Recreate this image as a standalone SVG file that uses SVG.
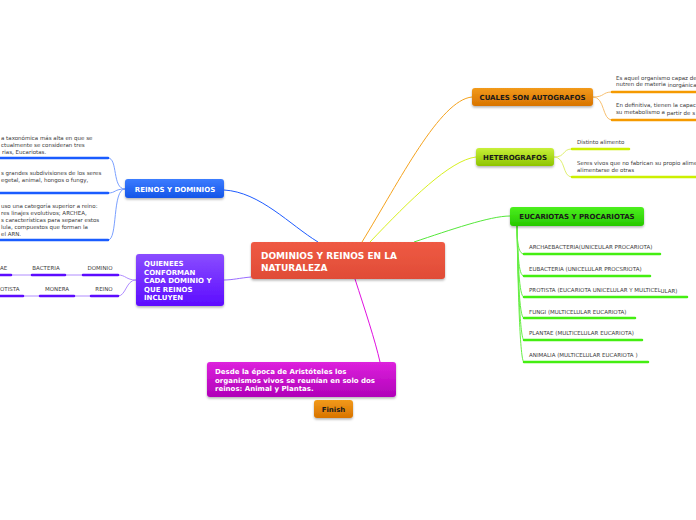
<svg xmlns="http://www.w3.org/2000/svg" width="696" height="520" viewBox="0 0 696 520">
<defs>
<linearGradient id="gRed" x1="0" y1="0" x2="0" y2="1"><stop offset="0" stop-color="#ef5a44"/><stop offset="1" stop-color="#e04c36"/></linearGradient>
<linearGradient id="gBlue" x1="0" y1="0" x2="0" y2="1"><stop offset="0" stop-color="#3b7cff"/><stop offset="1" stop-color="#1455e8"/></linearGradient>
<linearGradient id="gPurple" x1="0" y1="0" x2="0" y2="1"><stop offset="0" stop-color="#8a4dff"/><stop offset="1" stop-color="#5c0cff"/></linearGradient>
<linearGradient id="gOrange" x1="0" y1="0" x2="0" y2="1"><stop offset="0" stop-color="#f29a1a"/><stop offset="1" stop-color="#d87300"/></linearGradient>
<linearGradient id="gYellow" x1="0" y1="0" x2="0" y2="1"><stop offset="0" stop-color="#c8f03a"/><stop offset="1" stop-color="#8ec400"/></linearGradient>
<linearGradient id="gGreen" x1="0" y1="0" x2="0" y2="1"><stop offset="0" stop-color="#4cf01e"/><stop offset="1" stop-color="#27c800"/></linearGradient>
<linearGradient id="gMagenta" x1="0" y1="0" x2="0" y2="1"><stop offset="0" stop-color="#dd22dd"/><stop offset="1" stop-color="#b000b8"/></linearGradient>
<filter id="sh" x="-10%" y="-20%" width="120%" height="150%"><feDropShadow dx="0" dy="1.5" stdDeviation="1.2" flood-color="#000" flood-opacity="0.3"/></filter>
</defs>
<style>
.nt{font-family:"DejaVu Sans",Verdana,sans-serif;font-weight:bold;}
.w{fill:#ffffff;}
.d{fill:#1a1a1a;}
.s{font-family:"DejaVu Sans",Verdana,sans-serif;font-size:5.5px;fill:#3a3a3a;}
.c{fill:none;stroke-width:1;}
.u{fill:none;stroke-width:2.5;stroke-linecap:round;}
</style>
<rect width="696" height="520" fill="#ffffff"/>

<g id="connectors">
  <path class="c" stroke="#1e5cff" d="M224,190 C260,192 290,225 318,242"/>
  <path class="c" stroke="#f5a31e" d="M362,242 C400,180 440,100 472,97"/>
  <path class="c" stroke="#d8f020" d="M370,242 C410,200 450,160 476,157"/>
  <path class="c" stroke="#55e83a" d="M414,242 C450,230 490,216 510,216"/>
  <path class="c" stroke="#e010e0" d="M355,279 C365,310 375,340 380,362"/>
  <path class="c" stroke="#9a6cff" d="M251,277 C240,278 232,280 224,280"/>
  <path class="c" stroke="#7aa0ff" d="M125,189 C112,189 118,158 108,158"/>
  <path class="c" stroke="#7aa0ff" d="M125,189 C114,189 116,193 108,193"/>
  <path class="c" stroke="#7aa0ff" d="M125,189 C112,189 118,240 108,240"/>
  <path class="c" stroke="#b08cff" d="M136,280 C126,280 126,275 118,275"/>
  <path class="c" stroke="#b08cff" d="M136,280 C126,280 126,296 118,296"/>
  <path class="c" stroke="#b08cff" d="M83,275 L65,275 M32,275 L11,275 M90,296 L74,296 M40,296 L23,296"/>
  <path class="c" stroke="#f8c070" d="M593,97 C605,97 602,92 612,92"/>
  <path class="c" stroke="#f8c070" d="M593,97 C605,97 602,120 612,120"/>
  <path class="c" stroke="#e0f070" d="M554,157 C566,157 562,149 572,149"/>
  <path class="c" stroke="#e0f070" d="M554,157 C566,157 562,177 572,177"/>
  <path class="c" stroke="#66ee44" d="M517,226 C517,240 518,254 524,254"/>
  <path class="c" stroke="#66ee44" d="M517,226 C518,250 518,276 524,276"/>
  <path class="c" stroke="#66ee44" d="M517,226 C518,260 519,297 524,297"/>
  <path class="c" stroke="#66ee44" d="M517,226 C518,270 519,318 524,318"/>
  <path class="c" stroke="#66ee44" d="M517,226 C518,280 520,340 524,340"/>
  <path class="c" stroke="#66ee44" d="M517,226 C518,290 520,362 524,362"/>
</g>

<g id="central">
  <rect x="251" y="242" width="194" height="37" rx="3" fill="url(#gRed)" filter="url(#sh)"/>
  <text class="nt w" font-size="9" x="261" y="259">DOMINIOS Y REINOS EN LA</text>
  <text class="nt w" font-size="9" x="261" y="271">NATURALEZA</text>
</g>

<g id="reinos">
  <rect x="125" y="179" width="99" height="19" rx="3" fill="url(#gBlue)" filter="url(#sh)"/>
  <text class="nt w" font-size="7" x="175" y="191.5" text-anchor="middle">REINOS Y DOMINIOS</text>
</g>
<g id="reinos-1">
  <text class="s" x="1" y="140">a taxonómica más alta en que se</text>
  <text class="s" x="1" y="147">ctualmente se consideran tres</text>
  <text class="s" x="2" y="154">rias, Eucariotas.</text>
  <path class="u" stroke="#1a5cff" d="M0,158 L108,158"/>
</g>
<g id="reinos-2">
  <text class="s" x="1" y="175">s grandes subdivisiones de los seres</text>
  <text class="s" x="1" y="182">egetal, animal, hongos o fungy,</text>
  <path class="u" stroke="#1a5cff" d="M0,193 L108,193"/>
</g>
<g id="reinos-3">
  <text class="s" x="1" y="208">uso una categoría superior a reino:</text>
  <text class="s" x="1" y="215">res linajes evolutivos; ARCHEA,</text>
  <text class="s" x="1" y="222">s características para separar estos</text>
  <text class="s" x="1" y="229">lula, compuestos que forman la</text>
  <text class="s" x="1" y="236">el ARN.</text>
  <path class="u" stroke="#1a5cff" d="M0,240 L108,240"/>
</g>

<g id="quienees">
  <rect x="136" y="254" width="88" height="52" rx="3" fill="url(#gPurple)" filter="url(#sh)"/>
  <text class="nt w" font-size="7" x="144" y="266">QUIENEES</text>
  <text class="nt w" font-size="7" x="144" y="274.5">CONFORMAN</text>
  <text class="nt w" font-size="7" x="144" y="283">CADA DOMINIO Y</text>
  <text class="nt w" font-size="7" x="144" y="291.5">QUE REINOS</text>
  <text class="nt w" font-size="7" x="144" y="300">INCLUYEN</text>
</g>
<g id="q-dominio"><text class="s" x="100" y="270" text-anchor="middle">DOMINIO</text><path class="u" stroke="#5c0cff" d="M83,275 L118,275"/></g>
<g id="q-bacteria"><text class="s" x="46" y="270" text-anchor="middle">BACTERIA</text><path class="u" stroke="#5c0cff" d="M32,275 L65,275"/></g>
<g id="q-ae"><text class="s" x="0" y="270">AE</text><path class="u" stroke="#5c0cff" d="M0,275 L11,275"/></g>
<g id="q-reino"><text class="s" x="104" y="291" text-anchor="middle">REINO</text><path class="u" stroke="#5c0cff" d="M91,296 L118,296"/></g>
<g id="q-monera"><text class="s" x="57" y="291" text-anchor="middle">MONERA</text><path class="u" stroke="#5c0cff" d="M40,296 L74,296"/></g>
<g id="q-protista"><text class="s" x="0" y="291">OTISTA</text><path class="u" stroke="#5c0cff" d="M0,296 L23,296"/></g>

<g id="autografos">
  <rect x="472" y="88" width="121" height="18" rx="3" fill="url(#gOrange)" filter="url(#sh)"/>
  <text class="nt d" font-size="7" x="532.5" y="99.5" text-anchor="middle">CUALES SON AUTOGRAFOS</text>
</g>
<g id="auto-1">
  <text class="s" x="616" y="80">Es aquel organismo capaz de</text>
  <text class="s" x="616" y="86">nutren de materia <tspan dy="1">inorgánica</tspan></text>
  <path class="u" stroke="#f59a00" d="M612,92 L696,92"/>
</g>
<g id="auto-2">
  <text class="s" x="616" y="107">En definitiva, tienen la capac</text>
  <text class="s" x="616" y="114">su metabolismo a <tspan dy="1">partir de s</tspan></text>
  <path class="u" stroke="#f59a00" d="M612,120 L696,120"/>
</g>

<g id="heterografos">
  <rect x="476" y="148" width="78" height="18" rx="3" fill="url(#gYellow)" filter="url(#sh)"/>
  <text class="nt d" font-size="7" x="515" y="159.5" text-anchor="middle">HETEROGRAFOS</text>
</g>
<g id="het-1">
  <text class="s" x="577" y="144">Distinto alimento</text>
  <path class="u" stroke="#ccf000" d="M572,149 L629,149"/>
</g>
<g id="het-2">
  <text class="s" x="577" y="165">Seres vivos que no fabrican su propio alime</text>
  <text class="s" x="577" y="172">alimentarse de otras</text>
  <path class="u" stroke="#ccf000" d="M572,177 L696,177"/>
</g>

<g id="eucariotas">
  <rect x="510" y="207" width="134" height="19" rx="3" fill="url(#gGreen)" filter="url(#sh)"/>
  <text class="nt d" font-size="7" x="577" y="219" text-anchor="middle">EUCARIOTAS Y PROCARIOTAS</text>
</g>
<g id="e-1"><text class="s" x="529" y="249">ARCHAEBACTERIA(UNICEULAR PROCARIOTA)</text><path class="u" stroke="#44ee11" d="M524,254 L660,254"/></g>
<g id="e-2"><text class="s" x="529" y="271">EUBACTERIA (UNICELULAR PROCSRIOTA)</text><path class="u" stroke="#44ee11" d="M524,276 L650,276"/></g>
<g id="e-3"><text class="s" x="529" y="292">PROTISTA (EUCARIOTA UNICELULAR Y MULTICEL<tspan dy="1">ULAR)</tspan></text><path class="u" stroke="#44ee11" d="M524,297 L687,297"/></g>
<g id="e-4"><text class="s" x="529" y="314">FUNGI (MULTICELULAR EUCARIOTA)</text><path class="u" stroke="#44ee11" d="M524,318 L635,318"/></g>
<g id="e-5"><text class="s" x="529" y="335">PLANTAE (MULTICELULAR EUCARIOTA)</text><path class="u" stroke="#44ee11" d="M524,340 L642,340"/></g>
<g id="e-6"><text class="s" x="529" y="357">ANIMALIA (MULTICELULAR  EUCARIOTA )</text><path class="u" stroke="#44ee11" d="M524,362 L648,362"/></g>

<g id="desde">
  <rect x="207" y="362" width="189" height="35" rx="3" fill="url(#gMagenta)" filter="url(#sh)"/>
  <text class="nt w" font-size="7" x="215" y="374">Desde la época de Aristóteles los</text>
  <text class="nt w" font-size="7" x="215" y="382.5">organismos vivos se reunían en solo dos</text>
  <text class="nt w" font-size="7" x="215" y="391">reinos: Animal y Plantas.</text>
</g>

<g id="finish">
  <rect x="314" y="400" width="39" height="18" rx="3" fill="url(#gOrange)" filter="url(#sh)"/>
  <text class="nt d" font-size="7" x="333.5" y="411.5" text-anchor="middle">Finish</text>
</g>
</svg>
